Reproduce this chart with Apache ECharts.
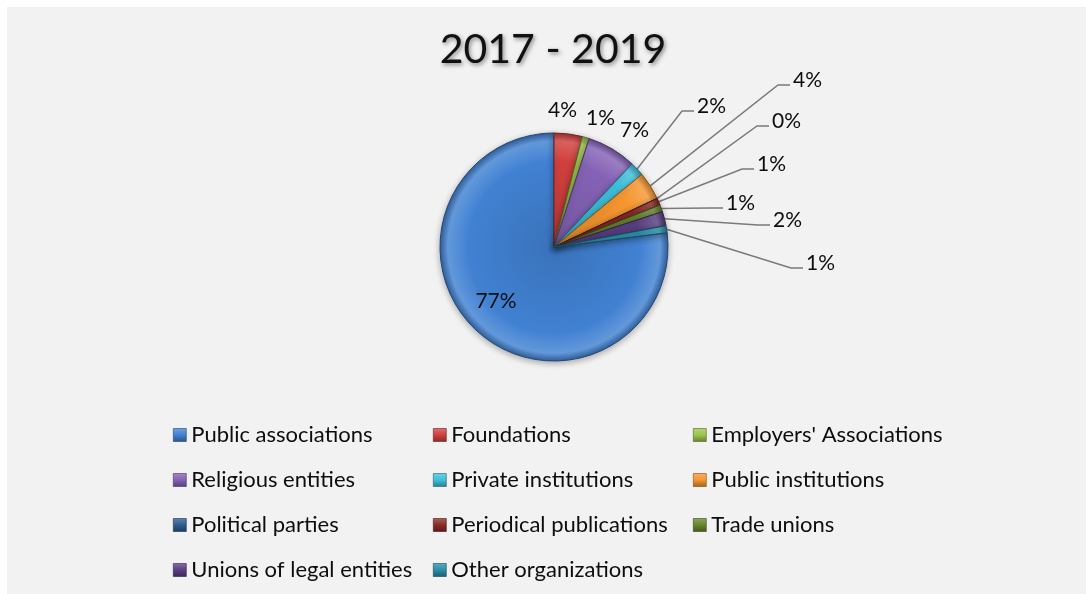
<!DOCTYPE html>
<html>
<head>
<meta charset="utf-8">
<script src="https://cdn.jsdelivr.net/npm/echarts@6/dist/echarts.min.js"></script>
<style>
  html, body { margin: 0; padding: 0; background: #ffffff; }
  #chart { width: 1086px; height: 594px; }
</style>
</head>
<body>
<div id="chart"></div>
<script>
// Organisation types and their share of the total (percent)
const categories = [
  'Public associations', 'Foundations', "Employers' Associations",
  'Religious entities', 'Private institutions', 'Public institutions',
  'Political parties', 'Periodical publications', 'Trade unions',
  'Unions of legal entities', 'Other organizations'
];
const shares = [77, 4, 1, 7, 2, 4, 0, 1, 1, 2, 1];
const periodTitle = '2017 - 2019';

// ---- styling ----
const FONT = 'Lato, "Open Sans", sans-serif';
const palette = [
  '#4181d2', '#d0403d', '#9cc54b', '#8462b6', '#3fbfdc', '#f6962f',
  '#2f5a92', '#8a2a28', '#68862d', '#5a3f82', '#2a8ea8'
];
const PIE_X = 554, PIE_Y = 247, PIE_R = 114;

// Label anchors relative to the pie centre: [dx, dy] of the text's left/middle
// (the first one is centred inside the big slice).
const labelAnchors = [
  [-58, 54], [-6, -137], [32, -129], [66, -117], [143, -141], [239, -167],
  [218, -126], [203, -83], [172, -44], [219, -27], [252, 16]
];
const noLeader = [0, 1, 2, 3];

function mix(hex, target, t) {
  const n = parseInt(hex.slice(1), 16);
  const c = [(n >> 16) & 255, (n >> 8) & 255, n & 255];
  const m = c.map(v => Math.round(v + (target - v) * t));
  return 'rgb(' + m.join(',') + ')';
}

function sliceFill(base) {
  return {
    type: 'radial', x: PIE_X, y: PIE_Y, r: PIE_R, global: true,
    colorStops: [
      { offset: 0, color: mix(base, 0, 0.12) },
      { offset: 0.75, color: base },
      { offset: 0.93, color: mix(base, 255, 0.18) },
      { offset: 1, color: mix(base, 0, 0.25) }
    ]
  };
}

function iconFill(base) {
  return {
    type: 'linear', x: 0, y: 0, x2: 0, y2: 1,
    colorStops: [
      { offset: 0, color: mix(base, 255, 0.25) },
      { offset: 0.5, color: base },
      { offset: 1, color: mix(base, 0, 0.35) }
    ]
  };
}

const pieData = categories.map((name, i) => ({
  name: name,
  value: shares[i],
  itemStyle: { color: sliceFill(palette[i]), borderColor: mix(palette[i], 0, 0.45) },
  labelLine: { show: noLeader.indexOf(i) < 0 }
}));

// three legend columns, filled row by row
const legendColumns = [0, 1, 2].map(c =>
  categories
    .map((name, i) => ({ name: name, i: i }))
    .filter(o => o.i % 3 === c)
    .map(o => ({ name: o.name, itemStyle: { color: iconFill(palette[o.i]), borderColor: mix(palette[o.i], 0, 0.5), borderWidth: 0.6 } }))
);

const chart = echarts.init(document.getElementById('chart'), null, { renderer: 'canvas' });

chart.setOption({
  animation: false,
  backgroundColor: 'transparent',
  graphic: [{
    type: 'rect', z: -10, silent: true,
    shape: { x: 7, y: 7, width: 1079, height: 587 },
    style: { fill: '#f2f2f2' }
  }],
  title: {
    text: periodTitle,
    left: 553, top: 29, textAlign: 'center', padding: 0,
    textStyle: {
      fontFamily: FONT, fontSize: 41, fontWeight: 'normal', color: '#111111',
      textShadowColor: 'rgba(0,0,0,0.45)', textShadowBlur: 4,
      textShadowOffsetX: 1.5, textShadowOffsetY: 2
    }
  },
  legend: legendColumns.map((items, c) => ({
    orient: 'vertical',
    left: 173 + c * 260, top: 424, padding: 0,
    itemWidth: 13, itemHeight: 13, itemGap: 23,
    icon: 'rect', selectedMode: false,
    data: items,
    textStyle: { fontFamily: FONT, fontSize: 22, color: '#0d0d0d', lineHeight: 22 }
  })),
  series: [{
    type: 'pie',
    center: [PIE_X, PIE_Y],
    radius: PIE_R,
    startAngle: 7.2,
    clockwise: true,
    avoidLabelOverlap: false,
    emphasis: { disabled: true },
    itemStyle: {
      borderWidth: 1,
      shadowBlur: 6, shadowColor: 'rgba(0,0,0,0.3)', shadowOffsetY: 2
    },
    label: {
      show: true,
      formatter: '{c}%',
      fontFamily: FONT, fontSize: 21, color: '#0d0d0d'
    },
    labelLine: {
      show: true, length: 20, length2: 10,
      lineStyle: { color: '#7a7a7a', width: 1.5 }
    },
    labelLayout: function (p) {
      const a = labelAnchors[p.dataIndex];
      const x = PIE_X + a[0];
      const y = PIE_Y + a[1];
      const out = { x: x, y: y, align: p.dataIndex === 0 ? 'center' : 'left', verticalAlign: 'middle' };
      const pts = p.labelLinePoints;
      if (pts && pts.length && noLeader.indexOf(p.dataIndex) < 0) {
        const endX = x - 3, lineY = y + 5;
        out.labelLinePoints = [pts[0], [endX - 12, lineY], [endX, lineY]];
      }
      return out;
    },
    data: pieData
  }]
});
</script>
</body>
</html>
